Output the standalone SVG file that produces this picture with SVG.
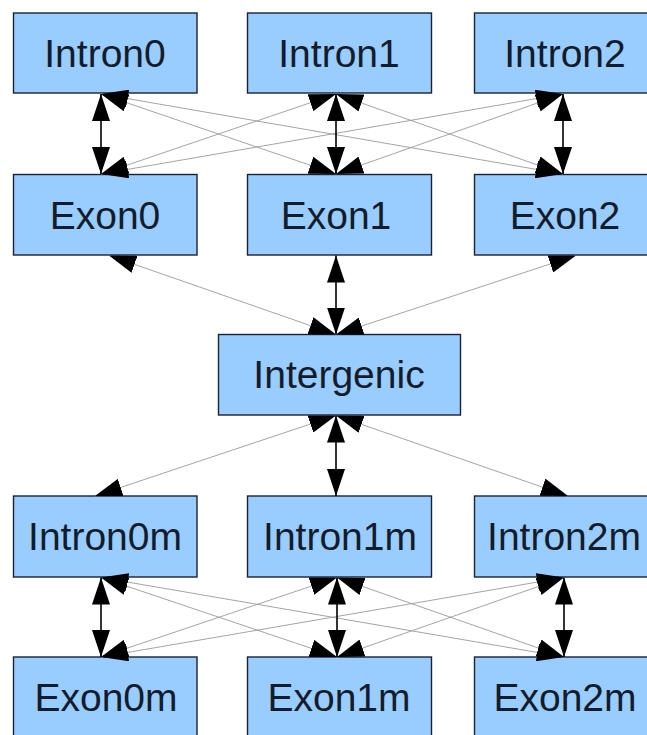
<svg xmlns="http://www.w3.org/2000/svg" width="647" height="735" viewBox="0 0 647 735">
  <style>
    .box { fill: #99ccff; stroke: #1a2233; stroke-width: 1.4; }
    .lbl { font-family: "Liberation Sans", Arial, sans-serif; font-size: 39px; fill: #131c2c; text-anchor: middle; }
    .main { stroke: #000; stroke-width: 1.6; fill: none; marker-start: url(#head); marker-end: url(#head); }
    .side { stroke: #9a9a9a; stroke-width: 0.9; fill: none; marker-start: url(#head); marker-end: url(#head); }
  </style>
  <defs>
    <marker id="head" markerUnits="userSpaceOnUse" viewBox="0 0 27 18" markerWidth="27" markerHeight="18" refX="27" refY="9" orient="auto-start-reverse">
      <path d="M0,0 L27,9 L0,18 z" fill="#000"/>
    </marker>
  </defs>
  <rect width="647" height="735" fill="#fff"/>

  <!-- intron row -->
  <g id="Intron0"><rect class="box" x="13.5" y="13" width="183.5" height="80"/><text class="lbl" x="105" y="66.7">Intron0</text></g>
  <g id="Intron1"><rect class="box" x="247.5" y="13" width="184" height="80"/><text class="lbl" x="339" y="66.7">Intron1</text></g>
  <g id="Intron2"><rect class="box" x="474.5" y="13" width="184" height="80"/><text class="lbl" x="565" y="66.7">Intron2</text></g>

  <!-- exon row -->
  <g id="Exon0"><rect class="box" x="13.5" y="174.5" width="183.5" height="80.5"/><text class="lbl" x="105" y="228.5">Exon0</text></g>
  <g id="Exon1"><rect class="box" x="247.5" y="174.5" width="184" height="80.5"/><text class="lbl" x="336" y="228.5">Exon1</text></g>
  <g id="Exon2"><rect class="box" x="474.5" y="174.5" width="184" height="80.5"/><text class="lbl" x="565" y="228.5">Exon2</text></g>

  <!-- intergenic -->
  <g id="Intergenic"><rect class="box" x="218.5" y="334.5" width="242" height="80.5"/><text class="lbl" x="339" y="388.4">Intergenic</text></g>

  <!-- minus-strand intron row -->
  <g id="Intron0m"><rect class="box" x="13.5" y="496" width="183.5" height="81"/><text class="lbl" x="105" y="550.3">Intron0m</text></g>
  <g id="Intron1m"><rect class="box" x="247.5" y="496" width="184" height="81"/><text class="lbl" x="340" y="550.3">Intron1m</text></g>
  <g id="Intron2m"><rect class="box" x="474.5" y="496" width="184" height="81"/><text class="lbl" x="564" y="550.3">Intron2m</text></g>

  <!-- minus-strand exon row -->
  <g id="Exon0m"><rect class="box" x="13.5" y="657" width="183.5" height="81"/><text class="lbl" x="106" y="711.3">Exon0m</text></g>
  <g id="Exon1m"><rect class="box" x="247.5" y="657" width="184" height="81"/><text class="lbl" x="339" y="711.3">Exon1m</text></g>
  <g id="Exon2m"><rect class="box" x="474.5" y="657" width="184" height="81"/><text class="lbl" x="565" y="711.3">Exon2m</text></g>

  <g id="edges">
    <!-- introns to exons -->
    <line class="side" x1="101" y1="94" x2="336" y2="174"/>
    <line class="side" x1="101" y1="94" x2="563" y2="174"/>
    <line class="side" x1="336" y1="94" x2="101" y2="174"/>
    <line class="side" x1="336" y1="94" x2="563" y2="174"/>
    <line class="side" x1="563" y1="94" x2="101" y2="174"/>
    <line class="side" x1="563" y1="94" x2="336" y2="174"/>
    <line class="main" x1="101" y1="94" x2="101" y2="174"/>
    <line class="main" x1="336" y1="94" x2="336" y2="174"/>
    <line class="main" x1="563" y1="94" x2="563" y2="174"/>

    <!-- exons to intergenic -->
    <line class="side" x1="109" y1="255.5" x2="336" y2="334.5"/>
    <line class="side" x1="576" y1="255.5" x2="336" y2="334.5"/>
    <line class="main" x1="336" y1="255.5" x2="336" y2="334.5"/>

    <!-- intergenic to minus-strand introns -->
    <line class="side" x1="336" y1="415.5" x2="95" y2="496"/>
    <line class="side" x1="336" y1="415.5" x2="568" y2="496"/>
    <line class="main" x1="336" y1="415.5" x2="336" y2="496"/>

    <!-- minus-strand introns to exons -->
    <line class="side" x1="101" y1="577.5" x2="337" y2="657"/>
    <line class="side" x1="101" y1="577.5" x2="564" y2="657"/>
    <line class="side" x1="337" y1="577.5" x2="101" y2="657"/>
    <line class="side" x1="337" y1="577.5" x2="564" y2="657"/>
    <line class="side" x1="564" y1="577.5" x2="101" y2="657"/>
    <line class="side" x1="564" y1="577.5" x2="337" y2="657"/>
    <line class="main" x1="101" y1="577.5" x2="101" y2="657"/>
    <line class="main" x1="337" y1="577.5" x2="337" y2="657"/>
    <line class="main" x1="564" y1="577.5" x2="564" y2="657"/>
  </g>
</svg>
